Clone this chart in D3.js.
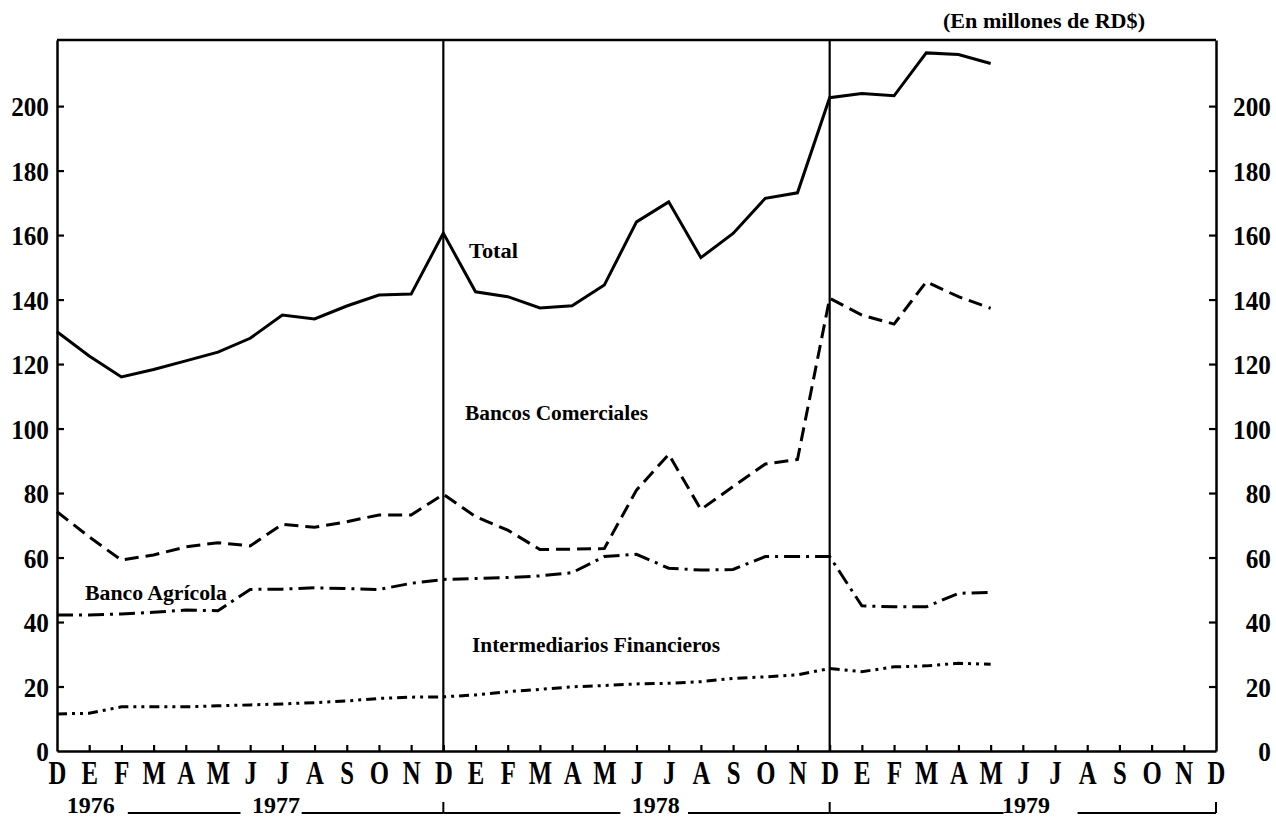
<!DOCTYPE html>
<html>
<head>
<meta charset="utf-8">
<script src="https://cdn.jsdelivr.net/npm/d3@7/dist/d3.min.js"></script>
<style>
  html, body { margin: 0; padding: 0; background: #fff; }
  svg { display: block; }
  text { fill: #000; }
</style>
</head>
<body>
<svg id="chart" width="1276" height="820"></svg>
<script>
// ---- Data (millones de RD$), monthly Dec 1976 .. May 1979 ----
const monthLetters = ["D","E","F","M","A","M","J","J","A","S","O","N",
                      "D","E","F","M","A","M","J","J","A","S","O","N",
                      "D","E","F","M","A","M","J","J","A","S","O","N","D"];
const years = ["1976", "1977", "1978", "1979"];
const yTicks = [0, 20, 40, 60, 80, 100, 120, 140, 160, 180, 200];

const total = [130.0, 122.5, 116.0, 118.3, 121.0, 123.7, 128.0, 135.2, 134.0, 138.0, 141.4, 141.7, 160.6,
               142.4, 140.9, 137.4, 138.1, 144.5, 164.1, 170.3, 153.0, 160.5, 171.4, 173.1, 202.6,
               203.9, 203.2, 216.5, 216.0, 213.2];
const bancosComerciales = [74.2, 66.4, 59.2, 60.8, 63.3, 64.6, 63.6, 70.3, 69.4, 71.1, 73.2, 73.2, 79.6,
               72.7, 68.5, 62.5, 62.6, 62.8, 80.9, 92.0, 74.9, 82.0, 89.0, 90.4, 140.4,
               135.2, 132.4, 145.5, 140.9, 137.3];
const bancoAgricola = [42.2, 42.2, 42.5, 43.0, 43.7, 43.5, 50.1, 50.2, 50.6, 50.4, 50.1, 52.0, 53.2,
               53.5, 53.8, 54.3, 55.3, 60.3, 61.0, 56.7, 56.1, 56.3, 60.3, 60.3, 60.3,
               45.0, 44.7, 44.7, 48.9, 49.2];
const intermediarios = [11.5, 11.7, 13.7, 13.7, 13.7, 14.0, 14.3, 14.6, 15.0, 15.5, 16.3, 16.7, 16.8,
               17.4, 18.4, 19.1, 19.9, 20.3, 20.8, 21.0, 21.5, 22.5, 23.0, 23.6, 25.6,
               24.6, 26.1, 26.4, 27.2, 26.9];

const seriesNames = ["Total", "Bancos Comerciales", "Banco Agrícola", "Intermediarios Financieros"];

// ---- Layout ----
const L = 57, R = 1216, T = 40, B = 751;
const svg = d3.select("#chart");
const serif = "'Liberation Serif', 'Times New Roman', serif";

const x = d3.scaleLinear().domain([0, monthLetters.length - 1]).range([L, R]);
const y = d3.scaleLinear().domain([0, 220.5]).range([B, T]);

// frame: top
svg.append("line").attr("x1", L).attr("x2", R).attr("y1", T).attr("y2", T)
  .attr("stroke", "#000").attr("stroke-width", 2.5);

// year dividers
[12, 24].forEach(i => {
  svg.append("line").attr("x1", x(i)).attr("x2", x(i)).attr("y1", T).attr("y2", B)
    .attr("stroke", "#000").attr("stroke-width", 2.2);
});

// Left axis
const gl = svg.append("g").attr("transform", `translate(${L},0)`)
  .call(d3.axisLeft(y).tickValues(yTicks).tickSize(-7).tickSizeOuter(0).tickPadding(9).tickFormat(d3.format("d")));
// Right axis
const gr = svg.append("g").attr("transform", `translate(${R},0)`)
  .call(d3.axisRight(y).tickValues(yTicks).tickSize(-7).tickSizeOuter(0).tickPadding(9).tickFormat(d3.format("d")));
// Bottom axis
const gb = svg.append("g").attr("transform", `translate(0,${B})`)
  .call(d3.axisBottom(x).tickValues(d3.range(monthLetters.length)).tickSize(-6).tickSizeOuter(0).tickPadding(9)
        .tickFormat(i => monthLetters[i]));

[gl, gr, gb].forEach(g => {
  g.select(".domain").attr("stroke", "#000").attr("stroke-width", 2.5);
  g.selectAll(".tick line").attr("stroke", "#000").attr("stroke-width", 2.2);
});
gl.selectAll(".tick text").attr("font-family", serif).attr("font-weight", "bold")
  .attr("font-size", 28).attr("transform", "scale(0.9,1)").attr("dy", "0.34em");
gr.selectAll(".tick text").attr("font-family", serif).attr("font-weight", "bold")
  .attr("font-size", 28).attr("text-anchor", "end").attr("x", 61)
  .attr("transform", "scale(0.9,1)").attr("dy", "0.34em");
gb.selectAll(".tick text").attr("font-family", serif).attr("font-weight", "bold")
  .attr("font-size", 33).attr("transform", "scale(0.75,1)").attr("dy", "0.72em");
// hide tick lines that coincide with the frame
gl.selectAll(".tick").filter(d => d === 0).select("line").remove();
gr.selectAll(".tick").filter(d => d === 0).select("line").remove();
gb.selectAll(".tick").filter(d => d === 0 || d === monthLetters.length - 1).select("line").remove();

// ---- Series lines ----
const line = d3.line().x((d, i) => x(i)).y(d => y(d));
const styles = [
  { data: total, dash: null },
  { data: bancosComerciales, dash: "14,7" },
  { data: bancoAgricola, dash: "16,6,3,6" },
  { data: intermediarios, dash: "10,5,3,5,3,5" }
];
styles.forEach(s => {
  const p = svg.append("path").datum(s.data).attr("d", line)
    .attr("fill", "none").attr("stroke", "#000").attr("stroke-width", 3)
    .attr("stroke-linejoin", "miter");
  if (s.dash) p.attr("stroke-dasharray", s.dash);
});

// ---- Series labels ----
const labelPos = [
  { x: 469, y: 258, w: 49 },
  { x: 465, y: 420, w: 183 },
  { x: 85,  y: 600, w: 142 },
  { x: 472, y: 652, w: 248 }
];
seriesNames.forEach((n, i) => {
  svg.append("text").text(n)
    .attr("x", labelPos[i].x).attr("y", labelPos[i].y)
    .attr("font-family", serif).attr("font-weight", "bold").attr("font-size", 20)
    .attr("textLength", labelPos[i].w).attr("lengthAdjust", "spacingAndGlyphs");
});

// ---- Unit title ----
svg.append("text").text("(En millones de RD$)")
  .attr("x", 943).attr("y", 28)
  .attr("font-family", serif).attr("font-weight", "bold").attr("font-size", 20)
  .attr("textLength", 202).attr("lengthAdjust", "spacingAndGlyphs");

// ---- Year row ----
const yearY = 813, hook = 11;
const yearPos = [1.05, 6.8, 18.6, 30.1];
years.forEach((yr, i) => {
  svg.append("text").text(yr).attr("x", x(yearPos[i])).attr("y", yearY)
    .attr("text-anchor", "middle").attr("font-family", serif).attr("font-weight", "bold")
    .attr("font-size", 24);
});
const segs = [
  [x(2.2), x(5.7)],
  [x(7.6), x(12)],
  [x(12), x(17.5)],
  [x(19.6), x(24)],
  [x(24), x(29.4)],
  [x(31.7), x(36)]
];
segs.forEach(s => {
  svg.append("line").attr("x1", s[0]).attr("x2", s[1]).attr("y1", yearY).attr("y2", yearY)
    .attr("stroke", "#000").attr("stroke-width", 1.8);
});
[12, 24, 36].forEach(i => {
  svg.append("line").attr("x1", x(i)).attr("x2", x(i)).attr("y1", yearY).attr("y2", yearY - hook)
    .attr("stroke", "#000").attr("stroke-width", 2);
});
</script>
</body>
</html>
